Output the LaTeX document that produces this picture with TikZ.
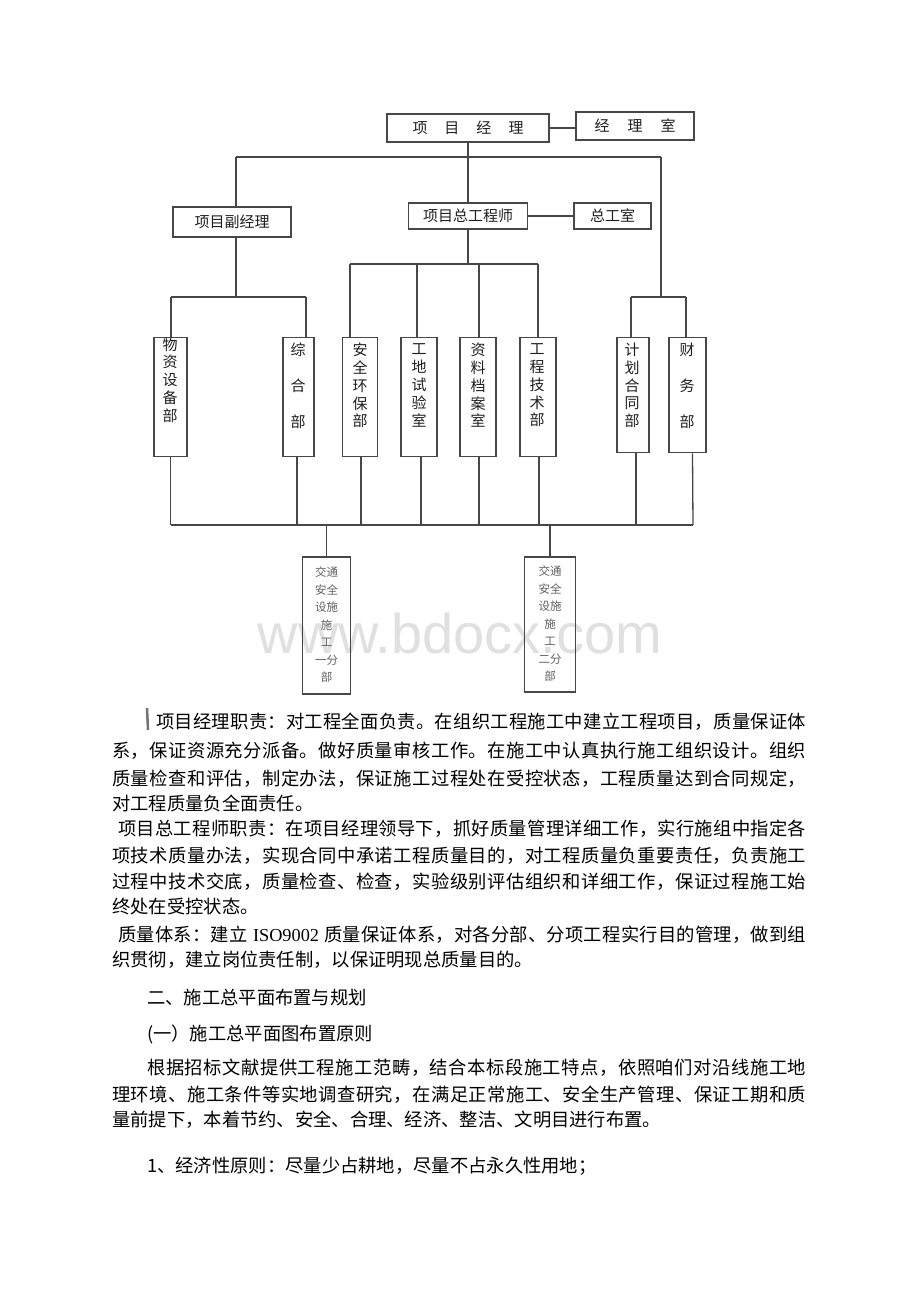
\documentclass[tikz,border=0pt]{standalone}
\usepackage{fontspec}
\newfontfamily\cjk{Noto Sans CJK SC}
\newfontfamily\libserif{Liberation Serif}
\newfontfamily\libsans{Liberation Sans}
\def\spreadit#1#2\endspread{#1\if\relax\detokenize{#2}\relax\else\hfill\spreadit#2\endspread\fi}
\newcommand\spreadline[2]{\hbox to #1{\spreadit#2\endspread}}
\begin{document}
\begin{tikzpicture}[x=1pt,y=-1pt,
  ln/.style={draw=black!72, line width=1.3pt},
  bx/.style={draw=black!72, line width=1.3pt, inner sep=0pt, text=black!88,
     font=\cjk\fontsize{15}{17}\selectfont},
  vt/.style={inner sep=0pt, align=center, text=black!88, font=\cjk\fontsize{15}{17.8}\selectfont},
  vtw/.style={inner sep=0pt, align=center, text=black!88, font=\cjk\fontsize{15}{36}\selectfont},
  st/.style={inner sep=0pt, align=center, text=black!62, font=\cjk\fontsize{11.5}{17.5}\selectfont},
  body/.style={anchor=west, inner sep=0pt, text=black, font=\cjk\fontsize{18.3}{22}\selectfont}]
\useasboundingbox (0,0) rectangle (920,1302);
\fill[white] (0,0) rectangle (920,1302);

% watermark
\node[font=\libsans\fontsize{56}{60}\selectfont, text=black!12, anchor=base, inner sep=0pt] (wm) at (460,653) {www.bdocx.com};

% top level
\node[bx, minimum width=162pt, minimum height=28pt] (pm) at (468,128) {项\hspace{17pt}目\hspace{17pt}经\hspace{17pt}理};
\node[bx, minimum width=118pt, minimum height=28pt] (pmo) at (635,126) {经\hspace{18pt}理\hspace{18pt}室};
\draw[ln] (pm.east) -- (pm.east -| pmo.west);

\node[bx, minimum width=118pt, minimum height=30pt] (vpm) at (232,222) {项目副经理};
\node[bx, minimum width=119pt, minimum height=26pt] (ce) at (468,216) {项目总工程师};
\node[bx, minimum width=77pt, minimum height=26pt] (ceo) at (612.5,216) {总工室};
\draw[ln] (ce.east) -- (ceo.west);

\coordinate (tl) at (236,157);
\coordinate (tr) at (661,157);
\draw[ln] (pm.south) -- (ce.north);
\draw[ln] (tl) -- (tr);
\draw[ln] (tl) -- (tl |- vpm.north);

% departments
\foreach \n/\x/\w/\b in {wz/170.5/33/456, zh/298.5/31/456, aq/360/35/456, gd/419/36/456, zl/478/36/456, gc/538/36/456, jh/633/32/452, cw/687.5/37/452}{
  \node[bx, minimum width=\w pt, minimum height={\b-337}, anchor=north] (\n) at (\x,337) {};
}
\node[vt] (twz) at (170,380) {物\\资\\设\\备\\部};
\node[vtw] (tzh) at (298,386) {综\\合\\部};
\node[vt] (taq) at (360,385.5) {安\\全\\环\\保\\部};
\node[vt] (tgd) at (419,385.5) {工\\地\\试\\验\\室};
\node[vt] (tzl) at (478,385.5) {资\\料\\档\\案\\室};
\node[vt] (tgc) at (537,385.5) {工\\程\\技\\术\\部};
\node[vt] (tjh) at (632,385.5) {计\\划\\合\\同\\部};
\node[vtw] (tcw) at (687,386) {财\\务\\部};

% left branch
\coordinate (lj) at (236,297);
\coordinate (la) at (171,297);
\coordinate (lb) at (306,297);
\draw[ln] (vpm.south -| tl) -- (lj);
\draw[ln] (la) -- (lb);
\draw[ln] (la) -- (la |- wz.north);
\draw[ln] (lb) -- (lb |- zh.north);

% centre branch
\coordinate (cj) at (469,264);
\coordinate (ca) at (350,264);
\coordinate (cb) at (538,264);
\coordinate (cg) at (417,264);
\coordinate (cz) at (479,264);
\draw[ln] (ce.south) -- (ce.south |- cj);
\draw[ln] (ca) -- (cb);
\draw[ln] (ca) -- (ca |- aq.north);
\draw[ln] (cg) -- (cg |- gd.north);
\draw[ln] (cz) -- (cz |- zl.north);
\draw[ln] (cb) -- (cb |- gc.north);

% right branch
\coordinate (rj) at (661,297);
\coordinate (ra) at (631,297);
\coordinate (rb) at (686,297);
\draw[ln] (tr) -- (rj);
\draw[ln] (ra) -- (rb);
\draw[ln] (ra) -- (ra |- jh.north);
\draw[ln] (rb) -- (rb |- cw.north);

% bottom bus
\coordinate (ba) at (171,525);
\coordinate (bb) at (693,525);
\draw[ln] (ba) -- (bb);
\draw[ln] (wz.south) -- (wz.south |- ba);
\draw[ln] ([xshift=-1.5pt]zh.south) -- ([xshift=-1.5pt]zh.south |- ba);
\draw[ln] ([xshift=1pt]aq.south) -- ([xshift=1pt]aq.south |- ba);
\draw[ln] ([xshift=2pt]gd.south) -- ([xshift=2pt]gd.south |- ba);
\draw[ln] ([xshift=1pt]zl.south) -- ([xshift=1pt]zl.south |- ba);
\draw[ln] ([xshift=1pt]gc.south) -- ([xshift=1pt]gc.south |- ba);
\draw[ln] ([xshift=3pt]jh.south) -- ([xshift=3pt]jh.south |- ba);
\draw[ln] ([xshift=5pt]cw.south) -- (bb);

% sub-branches
\node[bx, minimum width=48pt, minimum height=137pt] (s1) at (326.5,625.5) {};
\node[bx, minimum width=51pt, minimum height=135pt] (s2) at (550,624.5) {};
\draw[ln] (s1.north |- ba) -- (s1.north);
\draw[ln] (s2.north |- ba) -- (s2.north);
\node[st] (ts1) at (326.5,625) {交通\\安全\\设施\\施\\工\\一分\\部};
\node[st] (ts2) at (550,624) {交通\\安全\\设施\\施\\工\\二分\\部};

% body text
\draw[black!55, line width=2.5pt] (147,708) -- (148,730);
\node[body] (l1) at (156,722) {\spreadline{650pt}{项目经理职责：对工程全面负责。在组织工程施工中建立工程项目，质量保证体}};
\node[body] (l2) at (112,751) {\spreadline{694pt}{系，保证资源充分派备。做好质量审核工作。在施工中认真执行施工组织设计。组织}};
\node[body] (l3) at (112,779) {\spreadline{694pt}{质量检查和评估，制定办法，保证施工过程处在受控状态，工程质量达到合同规定，}};
\node[body] (l4) at (112,803) {对工程质量负全面责任。};
\node[body] (l5) at (118,829) {\spreadline{688pt}{项目总工程师职责：在项目经理领导下，抓好质量管理详细工作，实行施组中指定各}};
\node[body] (l6) at (112,855.5) {\spreadline{694pt}{项技术质量办法，实现合同中承诺工程质量目的，对工程质量负重要责任，负责施工}};
\node[body] (l7) at (112,882) {\spreadline{694pt}{过程中技术交底，质量检查、检查，实验级别评估组织和详细工作，保证过程施工始}};
\node[body] (l8) at (112,906.5) {终处在受控状态。};
\node[body] (l9) at (118,935) {\spreadline{688pt}{质量体系：建立{{\hspace{5pt}\libserif ISO9002\hspace{5pt}}}质量保证体系，对各分部、分项工程实行目的管理，做到组}};
\node[body] (l10) at (112,960) {织贯彻，建立岗位责任制，以保证明现总质量目的。};
\node[body] (l11) at (147,998) {二、施工总平面布置与规划};
\node[body] (l12) at (147,1034.5) {(一）施工总平面图布置原则};
\node[body] (l13) at (147,1068) {\spreadline{659pt}{根据招标文献提供工程施工范畴，结合本标段施工特点，依照咱们对沿线施工地}};
\node[body] (l14) at (112,1094.5) {\spreadline{694pt}{理环境、施工条件等实地调查研究，在满足正常施工、安全生产管理、保证工期和质}};
\node[body] (l15) at (112,1120) {量前提下，本着节约、安全、合理、经济、整洁、文明目进行布置。};
\node[body] (l16) at (147,1166.5) {1、经济性原则：尽量少占耕地，尽量不占永久性用地；};
\end{tikzpicture}
\end{document}
